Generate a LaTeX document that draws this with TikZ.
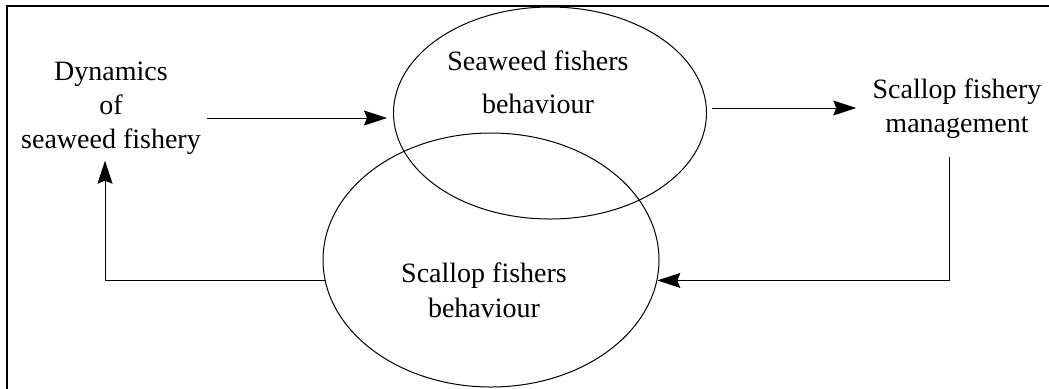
\documentclass[tikz,border=0pt]{standalone}
\usepackage{fontspec}
\setmainfont{Liberation Serif}
\usetikzlibrary{arrows.meta,positioning,calc,shapes.geometric}

\begin{document}
\begin{tikzpicture}[
  x=0.5pt,y=-0.5pt,
  textnode/.style={align=center,inner sep=3pt,font=\fontsize{14}{17}\selectfont},
  oval/.style={draw,ellipse,line width=0.5pt,inner sep=0pt},
  link/.style={-{Stealth[length=11.5pt,width=7.5pt,inset=1.5pt]},line width=0.5pt}
]
\clip (0,0) rectangle (1049,388);
\draw[line width=1pt] (6.5,6) rectangle (1070,410);
% the two overlapping behaviour ovals
\node[oval,minimum width=156.5pt,minimum height=106pt] (seaweed) at (550,113) {};
\node[oval,minimum width=168pt,minimum height=127pt] (scallop) at (491,260) {};
\node[textnode,font=\fontsize{14}{21.5}\selectfont] (seaweedtxt) at (538,82) {Seaweed fishers\\behaviour};
\node[textnode,font=\fontsize{14}{17.5}\selectfont] (scalloptxt) at (484,290) {Scallop fishers\\behaviour};
% outer boxes of text
\node[textnode] (dynamics) at (111,108) {Dynamics\\of\\seaweed fishery};
\node[textnode] (mgmt) at (957,109) {Scallop fishery\\management};
\draw[link,shorten >=3pt] ([yshift=-5pt]dynamics.east) -- ([yshift=-5pt]dynamics.east -| seaweed.west);
\draw[link,shorten >=7.5pt] ([shift={(2.5pt,2.5pt)}]seaweed.east) -- ([shift={(2.5pt,2.5pt)}]seaweed.east -| mgmt.west);
\draw[link,shorten <=6pt] ([xshift=-4pt]mgmt.south) |- (scallop.-7.6);
\draw[link] (scallop.187.6) -| ([xshift=-3pt]dynamics.south);
\end{tikzpicture}
\end{document}
